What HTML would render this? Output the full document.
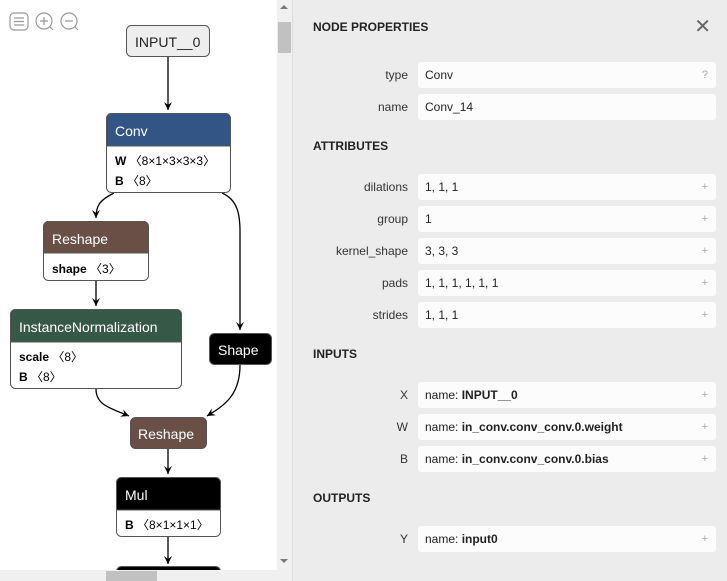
<!DOCTYPE html>
<html><head><style>
body{margin:0;width:727px;height:581px;overflow:hidden;font-family:"Liberation Sans",sans-serif;background:#fff;position:relative}
#panel{position:absolute;left:293px;top:0;width:434px;height:581px;background:#ececec}
.h{position:absolute;left:20px;font-weight:bold;font-size:12px;color:#222}
.l{position:absolute;width:115px;left:0;text-align:right;font-size:12px;color:#333}
.v{position:absolute;left:125px;width:298px;height:26px;background:#fcfcfc;border-radius:3px;font-size:12px;color:#222;line-height:26px;box-sizing:border-box;padding-left:7px}
.v i{position:absolute;right:8px;font-style:normal;color:#aaa;font-size:11px}
</style></head><body>
<svg width="293" height="581" style="position:absolute;left:0;top:0" font-family="Liberation Sans, sans-serif">
<defs><marker id="a" markerWidth="10" markerHeight="10" refX="8" refY="4" orient="auto" markerUnits="userSpaceOnUse"><path d="M0,0 L8,4 L0,8 L3,4z" fill="#000"/></marker></defs>
<g fill="none" stroke="#999" stroke-width="1.2">
<rect x="10" y="13" width="18" height="17" rx="4"/><path d="M14 18h10M14 21.5h10M14 25h10"/>
<circle cx="44" cy="21" r="8"/><path d="M40 21h8M44 17v8M50 27l3 3"/>
<circle cx="69" cy="21" r="8"/><path d="M65 21h8M75 27l3 3"/></g>
<g fill="none" stroke="#000" stroke-width="1.3">
<path d="M168 57V110" marker-end="url(#a)"/>
<path d="M114 193C100 200 96 205 96 218" marker-end="url(#a)"/>
<path d="M222 193C238 200 240 215 240 232V330" marker-end="url(#a)"/>
<path d="M96 281V306" marker-end="url(#a)"/>
<path d="M96 389C96 405 110 408 129 416" marker-end="url(#a)"/>
<path d="M240 365C240 395 225 405 207 416" marker-end="url(#a)"/>
<path d="M168 449V474" marker-end="url(#a)"/>
<path d="M168 537V564" marker-end="url(#a)"/></g>
<g stroke="#555" stroke-width="1">
<rect x="126.5" y="25.5" width="83" height="31" rx="5" fill="#eee"/>
<rect x="106.5" y="113.5" width="124" height="79" rx="5" fill="#fff"/>
<path d="M106.5 146V118.5a5 5 0 0 1 5-5h114a5 5 0 0 1 5 5V146z" fill="#335586"/>
<rect x="43.5" y="221.5" width="105" height="59" rx="5" fill="#fff"/>
<path d="M43.5 253V226.5a5 5 0 0 1 5-5h95a5 5 0 0 1 5 5V253z" fill="#6a4f47"/>
<rect x="10.5" y="309.5" width="171" height="79" rx="5" fill="#fff"/>
<path d="M10.5 342V314.5a5 5 0 0 1 5-5h161a5 5 0 0 1 5 5V342z" fill="#355946"/>
<rect x="209.5" y="333.5" width="62" height="31" rx="5" fill="#000"/>
<rect x="130.5" y="417.5" width="76" height="31" rx="5" fill="#6a4f47"/>
<rect x="116.5" y="477.5" width="104" height="59" rx="5" fill="#fff"/>
<path d="M116.5 510V482.5a5 5 0 0 1 5-5h94a5 5 0 0 1 5 5V510z" fill="#000"/>
<rect x="116.5" y="566.5" width="104" height="30" rx="5" fill="#000"/></g>
<g font-size="14">
<text x="135" y="47" fill="#222">INPUT__0</text>
<text x="115" y="136" fill="#fff">Conv</text>
<text x="52" y="244" fill="#fff">Reshape</text>
<text x="19" y="332" fill="#fff">InstanceNormalization</text>
<text x="218" y="355" fill="#fff">Shape</text>
<text x="138" y="439" fill="#fff">Reshape</text>
<text x="125" y="500" fill="#fff">Mul</text></g>
<g font-size="12" fill="#000">
<text x="115" y="165"><tspan font-weight="bold">W</tspan> 〈8×1×3×3×3〉</text>
<text x="115" y="185"><tspan font-weight="bold">B</tspan> 〈8〉</text>
<text x="52" y="273"><tspan font-weight="bold">shape</tspan> 〈3〉</text>
<text x="19" y="361"><tspan font-weight="bold">scale</tspan> 〈8〉</text>
<text x="19" y="381"><tspan font-weight="bold">B</tspan> 〈8〉</text>
<text x="125" y="529"><tspan font-weight="bold">B</tspan> 〈8×1×1×1〉</text></g>
<rect x="277" y="0" width="16" height="570" fill="#f0f0f0"/>
<rect x="278" y="22" width="13" height="31" fill="#c1c1c1"/>
<path d="M280 9l4-4 4 4z M280 559l4 4 4-4z" fill="#777"/>
<rect x="0" y="570" width="293" height="11" fill="#f0f0f0"/>
<rect x="106" y="571" width="51" height="10" fill="#c1c1c1"/>
<rect x="292" y="0" width="1" height="581" fill="#ddd"/>
</svg>
<div id="panel">
<div class="h" style="top:20px">NODE PROPERTIES</div>
<div style="position:absolute;right:16px;top:14px;font-size:20px;color:#666">✕</div>
<div class="l" style="top:68px">type</div><div class="v" style="top:62px">Conv<i>?</i></div>
<div class="l" style="top:100px">name</div><div class="v" style="top:94px">Conv_14</div>
<div class="h" style="top:139px">ATTRIBUTES</div>
<div class="l" style="top:180px">dilations</div><div class="v" style="top:174px">1, 1, 1<i>+</i></div>
<div class="l" style="top:212px">group</div><div class="v" style="top:206px">1<i>+</i></div>
<div class="l" style="top:244px">kernel_shape</div><div class="v" style="top:238px">3, 3, 3<i>+</i></div>
<div class="l" style="top:276px">pads</div><div class="v" style="top:270px">1, 1, 1, 1, 1, 1<i>+</i></div>
<div class="l" style="top:308px">strides</div><div class="v" style="top:302px">1, 1, 1<i>+</i></div>
<div class="h" style="top:347px">INPUTS</div>
<div class="l" style="top:388px">X</div><div class="v" style="top:382px">name: <b>INPUT__0</b><i>+</i></div>
<div class="l" style="top:420px">W</div><div class="v" style="top:414px">name: <b>in_conv.conv_conv.0.weight</b><i>+</i></div>
<div class="l" style="top:452px">B</div><div class="v" style="top:446px">name: <b>in_conv.conv_conv.0.bias</b><i>+</i></div>
<div class="h" style="top:491px">OUTPUTS</div>
<div class="l" style="top:532px">Y</div><div class="v" style="top:526px">name: <b>input0</b><i>+</i></div>
</div>
</body></html>
